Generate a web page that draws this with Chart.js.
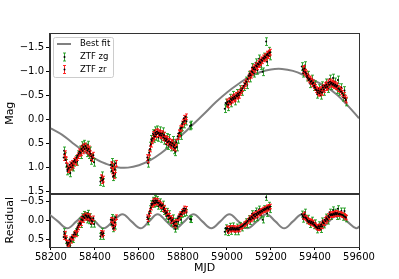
<!DOCTYPE html>
<html>
<head>
<meta charset="utf-8">
<script src="https://cdn.jsdelivr.net/npm/chart.js@4/dist/chart.umd.min.js"></script>
<style>
  body { margin: 0; background: #fff; }
  #wrap { width: 399px; height: 279px; }
</style>
</head>
<body>
<div id="wrap"><canvas id="lc" width="399" height="279"></canvas></div>
<script>
// Ticks
const mjdTicks = [58200, 58400, 58600, 58800, 59000, 59200, 59400, 59600];
const magTicks = [-1.5, -1.0, -0.5, 0.0, 0.5, 1.0, 1.5];
const resTicks = [-0.5, 0.0, 0.5];

// Best fit (top panel)
const fitT = [58200, 58250, 58300, 58350, 58400, 58450, 58500, 58550, 58600, 58650, 58700, 58750, 58800, 58850, 58900, 58950, 59000, 59050, 59100, 59150, 59200, 59250, 59300, 59350, 59400, 59450, 59500, 59550, 59600];
const fitMag = [0.19, 0.32, 0.50, 0.67, 0.82, 0.93, 1.00, 1.01, 0.96, 0.86, 0.71, 0.52, 0.31, 0.09, -0.13, -0.36, -0.56, -0.73, -0.88, -0.98, -1.04, -1.05, -1.01, -0.92, -0.80, -0.68, -0.51, -0.28, -0.02];

// Residual model (bottom panel)
const resFitT = [58191, 58232, 58274, 58316, 58359, 58400, 58440, 58482, 58525, 58566, 58608, 58646, 58685, 58725, 58766, 58807, 58848, 58888, 58929, 58970, 59011, 59052, 59093, 59136, 59179, 59220, 59260, 59300, 59342, 59382, 59423, 59464, 59505, 59546, 59587, 59610];
const resFitVal = [-0.16, 0.03, 0.21, 0.03, -0.16, 0.03, 0.21, 0.03, -0.16, 0.03, 0.21, 0.03, -0.16, 0.03, 0.21, 0.03, -0.16, 0.03, 0.21, 0.03, -0.16, 0.03, 0.21, 0.03, -0.16, 0.03, 0.21, 0.03, -0.16, 0.03, 0.21, 0.03, -0.16, 0.03, 0.21, 0.12];

// ZTF zg
const zgT = [
  58260, 58265, 58270, 58275, 58283, 58288, 58296, 58301, 58306, 58314, 58319, 58324, 58333, 58337, 58342, 58346, 58351, 58359, 58364, 58368, 58373, 58378, 58382, 58387, 58396, 58425, 58431, 58436, 58474, 58478, 58482, 58488, 58492,
  58640, 58648, 58652, 58656, 58664, 58668, 58672, 58676, 58684, 58688, 58696, 58700, 58708, 58712, 58716, 58724, 58728, 58734, 58738, 58746, 58754, 58758, 58762, 58766, 58772, 58778, 58786, 58790, 58798, 58806, 58816, 58832, 58838,
  58990, 58994, 59004, 59012, 59020, 59028, 59036, 59044, 59052, 59060, 59068, 59078, 59086, 59092, 59098, 59106, 59114, 59122, 59130, 59138, 59146, 59154, 59162, 59170, 59178, 59182, 59190, 59194,
  59340, 59346, 59354, 59362, 59370, 59378, 59386, 59394, 59402, 59410, 59418, 59426, 59434, 59442, 59450, 59458, 59466, 59474, 59482, 59490, 59498, 59504, 59510, 59520, 59528, 59534, 59542
];
const zgMag = [
  0.66, 0.78, 0.92, 1.08, 1.06, 1.12, 0.98, 1.00, 0.90, 0.84, 0.88, 0.74, 0.64, 0.74, 0.55, 0.60, 0.52, 0.58, 0.70, 0.54, 0.74, 0.66, 0.86, 0.80, 0.90, 1.30, 1.18, 1.32, 1.02, 0.90, 1.20, 0.95, 1.14,
  0.92, 0.74, 0.56, 0.42, 0.30, 0.40, 0.24, 0.36, 0.22, 0.38, 0.24, 0.40, 0.26, 0.44, 0.36, 0.52, 0.38, 0.55, 0.40, 0.58, 0.44, 0.64, 0.50, 0.68, 0.58, 0.42, 0.26, 0.34, 0.16, 0.10, 0.04, 0.14, 0.12,
  -0.22, -0.34, -0.26, -0.44, -0.34, -0.50, -0.38, -0.54, -0.44, -0.62, -0.58, -0.68, -0.80, -0.72, -0.92, -0.86, -1.08, -0.96, -1.18, -1.02, -1.26, -1.12, -0.99, -1.30, -1.62, -1.20, -1.42, -1.32,
  -1.10, -0.96, -1.12, -0.88, -0.92, -0.74, -0.84, -0.68, -0.72, -0.52, -0.64, -0.50, -0.70, -0.58, -0.76, -0.64, -0.84, -0.70, -0.86, -0.78, -0.62, -0.82, -0.58, -0.66, -0.46, -0.60, -0.36
];
const zgRes = [
  0.30, 0.41, 0.53, 0.67, 0.62, 0.66, 0.49, 0.50, 0.38, 0.30, 0.32, 0.16, 0.03, 0.11, -0.09, -0.06, -0.15, -0.12, -0.01, -0.18, 0.01, -0.09, 0.10, 0.02, 0.10, 0.42, 0.29, 0.42, 0.05, -0.07, 0.22, -0.03, 0.15,
  0.04, -0.12, -0.30, -0.43, -0.52, -0.42, -0.57, -0.44, -0.54, -0.37, -0.48, -0.31, -0.42, -0.23, -0.29, -0.11, -0.23, -0.03, -0.17, 0.07, -0.06, 0.15, 0.03, 0.23, 0.15, 0.03, -0.11, -0.01, -0.16, -0.18, -0.20, -0.03, -0.02,
  0.30, 0.20, 0.32, 0.16, 0.29, 0.15, 0.30, 0.18, 0.30, 0.14, 0.20, 0.13, 0.04, 0.11, -0.04, 0.03, -0.17, -0.04, -0.24, -0.07, -0.29, -0.14, -0.01, -0.30, -0.60, -0.18, -0.39, -0.28,
  -0.16, -0.03, -0.21, 0.01, -0.05, 0.11, 0.00, 0.14, 0.07, 0.25, 0.12, 0.24, 0.02, 0.12, -0.08, 0.02, -0.21, -0.10, -0.27, -0.21, -0.10, -0.30, -0.11, -0.24, -0.08, -0.24, -0.04
];
const zgErr = 0.08;

// ZTF zr
const zrT = [
  58258, 58262, 58267, 58272, 58276, 58281, 58285, 58290, 58294, 58299, 58303, 58308, 58312, 58317, 58321, 58326, 58330, 58335, 58339, 58344, 58348, 58353, 58357, 58362, 58366, 58371, 58375, 58380, 58384, 58389, 58393, 58428, 58433, 58438, 58472, 58476, 58480, 58483, 58486, 58490, 58494,
  58638, 58642, 58646, 58650, 58654, 58658, 58662, 58666, 58670, 58674, 58678, 58682, 58686, 58690, 58694, 58698, 58702, 58706, 58710, 58714, 58718, 58722, 58726, 58730, 58736, 58740, 58744, 58748, 58752, 58756, 58760, 58764, 58770, 58776, 58780, 58784, 58788, 58792, 58796, 58800, 58804, 58808, 58812,
  58998, 59002, 59006, 59010, 59014, 59018, 59022, 59026, 59030, 59034, 59038, 59042, 59046, 59050, 59054, 59058, 59064, 59070, 59076, 59082, 59088, 59094, 59100, 59104, 59108, 59112, 59116, 59120, 59124, 59128, 59132, 59136, 59140, 59144, 59148, 59152, 59156, 59160, 59164, 59168, 59172, 59176, 59180, 59184, 59188, 59192, 59196,
  59344, 59348, 59352, 59356, 59360, 59364, 59368, 59372, 59376, 59380, 59384, 59388, 59392, 59396, 59400, 59404, 59408, 59412, 59416, 59420, 59424, 59428, 59432, 59436, 59440, 59444, 59448, 59452, 59456, 59460, 59464, 59468, 59472, 59476, 59480, 59484, 59488, 59492, 59496, 59500, 59506, 59512, 59518, 59524, 59530, 59536, 59540
];
const zrMag = [
  0.80, 0.72, 0.85, 0.98, 1.05, 1.02, 0.95, 1.00, 0.92, 0.96, 0.88, 0.85, 0.90, 0.80, 0.76, 0.72, 0.68, 0.70, 0.62, 0.66, 0.58, 0.62, 0.56, 0.60, 0.65, 0.62, 0.68, 0.72, 0.78, 0.82, 0.75, 1.22, 1.28, 1.25, 0.95, 1.08, 0.98, 1.12, 1.18, 1.05, 0.92,
  0.80, 0.85, 0.70, 0.62, 0.52, 0.45, 0.40, 0.32, 0.36, 0.28, 0.32, 0.26, 0.30, 0.28, 0.33, 0.30, 0.34, 0.30, 0.38, 0.33, 0.40, 0.45, 0.42, 0.48, 0.46, 0.52, 0.48, 0.55, 0.50, 0.58, 0.54, 0.60, 0.48, 0.36, 0.30, 0.28, 0.20, 0.18, 0.10, 0.06, -0.02, 0.03, -0.05,
  -0.32, -0.36, -0.30, -0.38, -0.36, -0.42, -0.40, -0.45, -0.42, -0.47, -0.44, -0.50, -0.48, -0.53, -0.50, -0.56, -0.60, -0.64, -0.70, -0.74, -0.78, -0.84, -0.90, -0.95, -0.92, -1.00, -0.98, -1.05, -1.08, -1.04, -1.12, -1.10, -1.16, -1.14, -1.20, -1.18, -1.24, -1.22, -1.28, -1.26, -1.31, -1.29, -1.34, -1.36, -1.33, -1.38, -1.40,
  -1.04, -1.00, -1.06, -0.98, -0.95, -0.90, -0.86, -0.82, -0.84, -0.78, -0.80, -0.74, -0.76, -0.70, -0.66, -0.62, -0.60, -0.56, -0.60, -0.54, -0.58, -0.62, -0.56, -0.66, -0.62, -0.70, -0.66, -0.72, -0.68, -0.76, -0.72, -0.78, -0.74, -0.76, -0.72, -0.74, -0.70, -0.72, -0.68, -0.70, -0.64, -0.62, -0.58, -0.54, -0.50, -0.44, -0.40
];
const zrRes = [
  0.44, 0.35, 0.47, 0.58, 0.63, 0.59, 0.50, 0.54, 0.44, 0.46, 0.37, 0.33, 0.37, 0.24, 0.19, 0.13, 0.08, 0.08, -0.02, 0.00, -0.09, -0.06, -0.13, -0.11, -0.07, -0.11, -0.07, -0.04, 0.01, 0.03, -0.05, 0.33, 0.38, 0.34, -0.01, 0.11, 0.00, 0.14, 0.20, 0.06, -0.08,
  -0.08, -0.03, -0.17, -0.24, -0.33, -0.40, -0.43, -0.50, -0.45, -0.52, -0.47, -0.51, -0.46, -0.46, -0.40, -0.42, -0.37, -0.39, -0.29, -0.33, -0.25, -0.18, -0.20, -0.12, -0.12, -0.04, -0.06, 0.02, -0.01, 0.09, 0.06, 0.14, 0.04, -0.05, -0.10, -0.10, -0.16, -0.16, -0.22, -0.25, -0.31, -0.25, -0.30,
  0.23, 0.21, 0.28, 0.22, 0.25, 0.20, 0.24, 0.20, 0.24, 0.21, 0.25, 0.21, 0.24, 0.20, 0.24, 0.19, 0.17, 0.15, 0.11, 0.09, 0.06, 0.02, -0.02, -0.06, -0.02, -0.09, -0.06, -0.13, -0.15, -0.10, -0.17, -0.14, -0.20, -0.17, -0.22, -0.20, -0.25, -0.23, -0.28, -0.26, -0.30, -0.28, -0.32, -0.34, -0.30, -0.35, -0.36,
  -0.11, -0.08, -0.15, -0.07, -0.05, -0.01, 0.02, 0.05, 0.02, 0.07, 0.04, 0.09, 0.06, 0.11, 0.14, 0.17, 0.18, 0.21, 0.16, 0.21, 0.16, 0.11, 0.16, 0.05, 0.08, -0.01, 0.02, -0.05, -0.02, -0.11, -0.08, -0.16, -0.13, -0.16, -0.14, -0.17, -0.15, -0.19, -0.16, -0.19, -0.16, -0.17, -0.15, -0.14, -0.12, -0.09, -0.07
];
const zrErr = 0.06;

const GREEN = 'rgba(20,150,20,0.85)';
const RED = 'rgba(255,20,20,0.9)';
const GREY = '#808080';
const FONT = 'DejaVu Sans';

function pts(xs, ys) {
  return xs.map((x, i) => ({ x: x, y: ys[i] }));
}
function fmt(v) {
  return (v < 0 ? '\u2212' : '') + Math.abs(v).toFixed(1);
}

// Error bars drawn before the points of each dataset
const errBars = {
  id: 'errBars',
  beforeDatasetDraw(chart, args) {
    const ds = chart.data.datasets[args.index];
    if (!ds.errColor) return;
    const xs = chart.scales.x;
    const ys = chart.scales[ds.yAxisID];
    const ctx = chart.ctx;
    ctx.save();
    ctx.beginPath();
    ctx.rect(xs.left, ys.top, xs.right - xs.left, ys.bottom - ys.top);
    ctx.clip();
    ctx.strokeStyle = ds.errColor;
    ctx.lineWidth = 1;
    ds.data.forEach(p => {
      const x = Math.round(xs.getPixelForValue(p.x)) + 0.5;
      const y1 = ys.getPixelForValue(p.y - ds.err);
      const y2 = ys.getPixelForValue(p.y + ds.err);
      ctx.beginPath();
      ctx.moveTo(x, y1); ctx.lineTo(x, y2);
      ctx.moveTo(x - 1.5, y1); ctx.lineTo(x + 1.5, y1);
      ctx.moveTo(x - 1.5, y2); ctx.lineTo(x + 1.5, y2);
      ctx.stroke();
    });
    ctx.restore();
  }
};

// Panel frames and legend
const frame = {
  id: 'frame',
  afterDraw(chart) {
    const ctx = chart.ctx;
    const xs = chart.scales.x;
    ['y', 'y2'].forEach(id => {
      const s = chart.scales[id];
      ctx.save();
      ctx.strokeStyle = '#333';
      ctx.lineWidth = 1;
      ctx.strokeRect(Math.round(xs.left) - 0.5, Math.round(s.top) + 0.5, Math.round(xs.right - xs.left) + 1, Math.round(s.bottom - s.top) - 1);
      ctx.restore();
    });

    // legend
    ctx.save();
    ctx.fillStyle = 'rgba(255,255,255,0.8)';
    ctx.strokeStyle = '#cccccc';
    ctx.lineWidth = 1;
    ctx.beginPath();
    ctx.roundRect(53.5, 37.5, 60, 40, 2);
    ctx.fill();
    ctx.stroke();

    ctx.strokeStyle = GREY;
    ctx.lineWidth = 2;
    ctx.beginPath();
    ctx.moveTo(57, 44); ctx.lineTo(71, 44);
    ctx.stroke();

    [[GREEN, 57], [RED, 69.5]].forEach(([c, yc]) => {
      ctx.strokeStyle = c;
      ctx.lineWidth = 1;
      ctx.beginPath();
      ctx.moveTo(64.5, yc - 4); ctx.lineTo(64.5, yc + 4);
      ctx.moveTo(63, yc - 4); ctx.lineTo(66, yc - 4);
      ctx.moveTo(63, yc + 4); ctx.lineTo(66, yc + 4);
      ctx.stroke();
      ctx.fillStyle = '#000';
      ctx.beginPath();
      ctx.arc(64.5, yc, 1, 0, Math.PI * 2);
      ctx.fill();
    });

    ctx.fillStyle = '#000';
    ctx.font = '8.5px "' + FONT + '"';
    ctx.textBaseline = 'middle';
    ctx.textAlign = 'left';
    ctx.fillText('Best fit', 80, 44);
    ctx.fillText('ZTF zg', 80, 57);
    ctx.fillText('ZTF zr', 80, 69.5);
    ctx.restore();
  }
};

const yAxisBase = {
  type: 'linear',
  position: 'left',
  reverse: true,
  grid: { display: true, drawOnChartArea: false, drawTicks: true, tickLength: 4, color: '#000' },
  border: { display: true, color: '#333' },
  ticks: { color: '#000', font: { family: FONT, size: 10 }, padding: 2, callback: v => fmt(v) },
  title: { display: true, color: '#000', font: { family: FONT, size: 11 }, padding: { top: 4, bottom: 0 } },
  afterFit: s => { s.width = 50; }
};

new Chart(document.getElementById('lc'), {
  type: 'scatter',
  data: {
    datasets: [
      {
        label: 'Best fit', type: 'line', data: pts(fitT, fitMag), yAxisID: 'y',
        borderColor: GREY, borderWidth: 2, pointRadius: 0, tension: 0.4, fill: false, order: 5
      },
      {
        label: 'resfit', type: 'line', data: pts(resFitT, resFitVal), yAxisID: 'y2',
        borderColor: GREY, borderWidth: 2, pointRadius: 0, tension: 0.4, fill: false, order: 5
      },
      {
        label: 'ZTF zg', data: pts(zgT, zgMag), yAxisID: 'y', errColor: GREEN, err: zgErr,
        pointRadius: 1, backgroundColor: '#000', borderWidth: 0, order: 3
      },
      {
        label: 'ZTF zr', data: pts(zrT, zrMag), yAxisID: 'y', errColor: RED, err: zrErr,
        pointRadius: 1, backgroundColor: '#000', borderWidth: 0, order: 2
      },
      {
        label: 'ZTF zg res', data: pts(zgT, zgRes), yAxisID: 'y2', errColor: GREEN, err: zgErr,
        pointRadius: 1, backgroundColor: '#000', borderWidth: 0, order: 3
      },
      {
        label: 'ZTF zr res', data: pts(zrT, zrRes), yAxisID: 'y2', errColor: RED, err: zrErr,
        pointRadius: 1, backgroundColor: '#000', borderWidth: 0, order: 2
      }
    ]
  },
  options: {
    responsive: false,
    animation: false,
    devicePixelRatio: 1,
    layout: { padding: { left: 0, right: 40, top: 33, bottom: 0 } },
    plugins: { legend: { display: false }, tooltip: { enabled: false } },
    scales: {
      x: {
        type: 'linear', min: 58196, max: 59600,
        grid: { display: true, drawOnChartArea: false, drawTicks: true, tickLength: 3, color: '#000' },
        border: { display: true, color: '#333' },
        ticks: { color: '#000', font: { family: FONT, size: 10 }, padding: 1, maxRotation: 0, callback: v => String(v) },
        title: { display: true, text: 'MJD', color: '#000', font: { family: FONT, size: 11 }, padding: { top: 0, bottom: 4 } },
        afterBuildTicks: s => { s.ticks = mjdTicks.map(v => ({ value: v })); },
        afterFit: s => { s.height = 32; }
      },
      y2: Object.assign({}, yAxisBase, {
        min: -0.7, max: 0.7, stack: 'panels', stackWeight: 1,
        title: Object.assign({}, yAxisBase.title, { text: 'Residual' }),
        afterBuildTicks: s => { s.ticks = resTicks.map(v => ({ value: v })); }
      }),
      y: Object.assign({}, yAxisBase, {
        min: -1.8, max: 1.55, stack: 'panels', stackWeight: 3,
        title: Object.assign({}, yAxisBase.title, { text: 'Mag' }),
        afterBuildTicks: s => { s.ticks = magTicks.map(v => ({ value: v })); }
      })
    }
  },
  plugins: [errBars, frame]
});
</script>
</body>
</html>
